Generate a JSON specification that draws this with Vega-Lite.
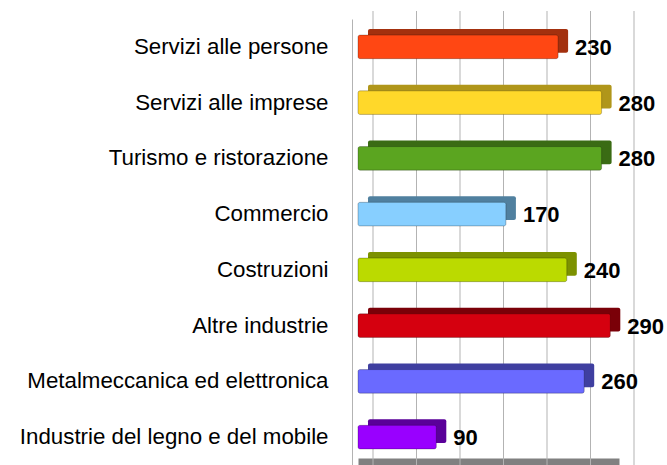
{
  "$schema": "https://vega.github.io/schema/vega-lite/v6.json",
  "autosize": {"type": "none"},
  "padding": {"left": 358, "top": 19, "right": 48, "bottom": 0},
  "width": 261,
  "height": 446,
  "background": "white",
  "config": {"view": {"stroke": null}},
  "data": {
    "values": [
      {"settore": "Servizi alle persone", "valore": 230},
      {"settore": "Servizi alle imprese", "valore": 280},
      {"settore": "Turismo e ristorazione", "valore": 280},
      {"settore": "Commercio", "valore": 170},
      {"settore": "Costruzioni", "valore": 240},
      {"settore": "Altre industrie", "valore": 290},
      {"settore": "Metalmeccanica ed elettronica", "valore": 260},
      {"settore": "Industrie del legno e del mobile", "valore": 90}
    ]
  },
  "encoding": {
    "y": {
      "field": "settore", "type": "nominal", "sort": null,
      "axis": {
        "title": null, "ticks": false, "offset": 6, "labelPadding": 24,
        "labelFont": "Liberation Sans", "labelFontSize": 22.3, "labelColor": "#000000",
        "domainColor": "#b3b3b3", "domainWidth": 1, "labelLimit": 400
      }
    },
    "x": {
      "field": "valore", "type": "quantitative", "stack": null,
      "scale": {"domain": [0, 300], "nice": false},
      "axis": {
        "title": null, "labels": false, "ticks": false, "grid": false,
        "domainColor": "#808080", "domainWidth": 8, "offset": -3
      }
    }
  },
  "layer": [
    {
      "data": {"values": [{"g": 0}, {"g": 50}, {"g": 100}, {"g": 150}, {"g": 200}, {"g": 250}, {"g": 300}]},
      "mark": {"type": "rule", "color": "#b3b3b3", "strokeWidth": 1, "xOffset": 15, "yOffset": -8},
      "encoding": {"x": {"field": "g", "type": "quantitative"}, "y": null}
    },
    {
      "mark": {"type": "bar", "height": {"band": 0.47}, "xOffset": 10, "x2Offset": 10, "yOffset": -6, "cornerRadius": 2},
      "encoding": {
        "x2": {"datum": 0},
        "color": {
          "field": "settore", "type": "nominal", "legend": null,
          "scale": {
            "domain": ["Servizi alle persone", "Servizi alle imprese", "Turismo e ristorazione", "Commercio", "Costruzioni", "Altre industrie", "Metalmeccanica ed elettronica", "Industrie del legno e del mobile"],
            "range": ["#a3300e", "#b0961a", "#3a6b14", "#50809f", "#7c9100", "#7a0008", "#3f3fa0", "#5a0099"]
          }
        }
      }
    },
    {
      "mark": {"type": "bar", "height": {"band": 0.47}, "cornerRadius": 2, "stroke": "#000000", "strokeOpacity": 0.25, "strokeWidth": 1},
      "encoding": {
        "x2": {"datum": 0},
        "fill": {
          "field": "settore", "type": "nominal", "legend": null,
          "scale": {
            "domain": ["Servizi alle persone", "Servizi alle imprese", "Turismo e ristorazione", "Commercio", "Costruzioni", "Altre industrie", "Metalmeccanica ed elettronica", "Industrie del legno e del mobile"],
            "range": ["#ff4713", "#ffd82a", "#5ba520", "#87cfff", "#bbda00", "#d5000f", "#6a6aff", "#9900ff"]
          }
        }
      }
    },
    {
      "mark": {"type": "text", "align": "left", "baseline": "middle", "xOffset": 17, "dy": 1, "font": "Liberation Sans", "fontWeight": "bold", "fontSize": 22, "color": "#000000"},
      "encoding": {"text": {"field": "valore", "type": "quantitative"}}
    }
  ],
  "resolve": {"scale": {"color": "independent", "fill": "independent"}}
}
